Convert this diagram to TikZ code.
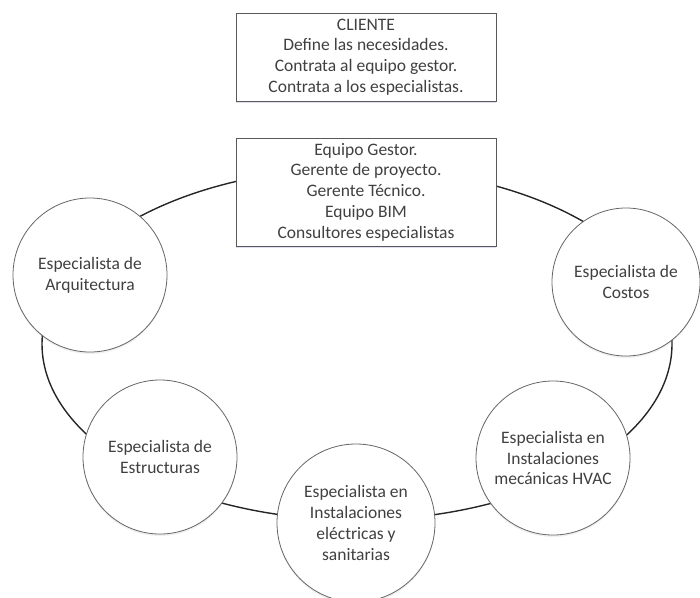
\documentclass[tikz,border=0pt]{standalone}
\usepackage{fontspec}
\setmainfont{Carlito}
\usetikzlibrary{shadows}

\begin{document}
\begin{tikzpicture}[x=1pt, y=-1pt,
    txt/.style={font=\fontsize{17.5}{20.8}\selectfont, text=black!75, align=center},
    rolbox/.style={txt, draw=black!65, line width=0.9pt, fill=white, minimum width=260pt, inner sep=0pt,
      drop shadow={shadow xshift=0pt, shadow yshift=-2pt, opacity=0.18, fill=blue!40!gray}},
    especialista/.style={txt, circle, draw=black!60, line width=0.8pt, fill=white, minimum size=154pt, inner sep=0pt,
      drop shadow={shadow xshift=0pt, shadow yshift=-2pt, opacity=0.12, fill=gray}},
    anillo/.style={draw=black!85, line width=1.4pt}]
		%%%%% START %%%%%
		\useasboundingbox (0,0) rectangle (700,597);
		
		% anillo del equipo
		\draw[anillo] (357,344) ellipse [x radius=315pt, y radius=176pt];
		
		\node[rolbox, minimum height=88pt] (cliente) at (366,57)
		  {CLIENTE\\Define las necesidades.\\Contrata al equipo gestor.\\Contrata a los especialistas.};
		\node[rolbox, minimum height=108pt] (gestor) at (366,192)
		  {Equipo Gestor.\\Gerente de proyecto.\\Gerente Técnico.\\Equipo BIM\\Consultores especialistas};
		
		% especialistas
		\node[especialista] (arquitectura) at (90,275) {Especialista de\\Arquitectura};
		\node[especialista, minimum size=148pt] (costos) at (626,282) {Especialista de\\Costos};
		\node[especialista] (estructuras) at (160,457) {Especialista de\\Estructuras};
		\node[especialista] (hvac) at (553,458) {Especialista en\\Instalaciones\\mecánicas HVAC};
		\node[especialista, minimum size=158pt] (electricas) at (356,523)
		  {Especialista en\\Instalaciones\\eléctricas y\\sanitarias};
		
		%%%%% END %%%%%
\end{tikzpicture}
\end{document}
